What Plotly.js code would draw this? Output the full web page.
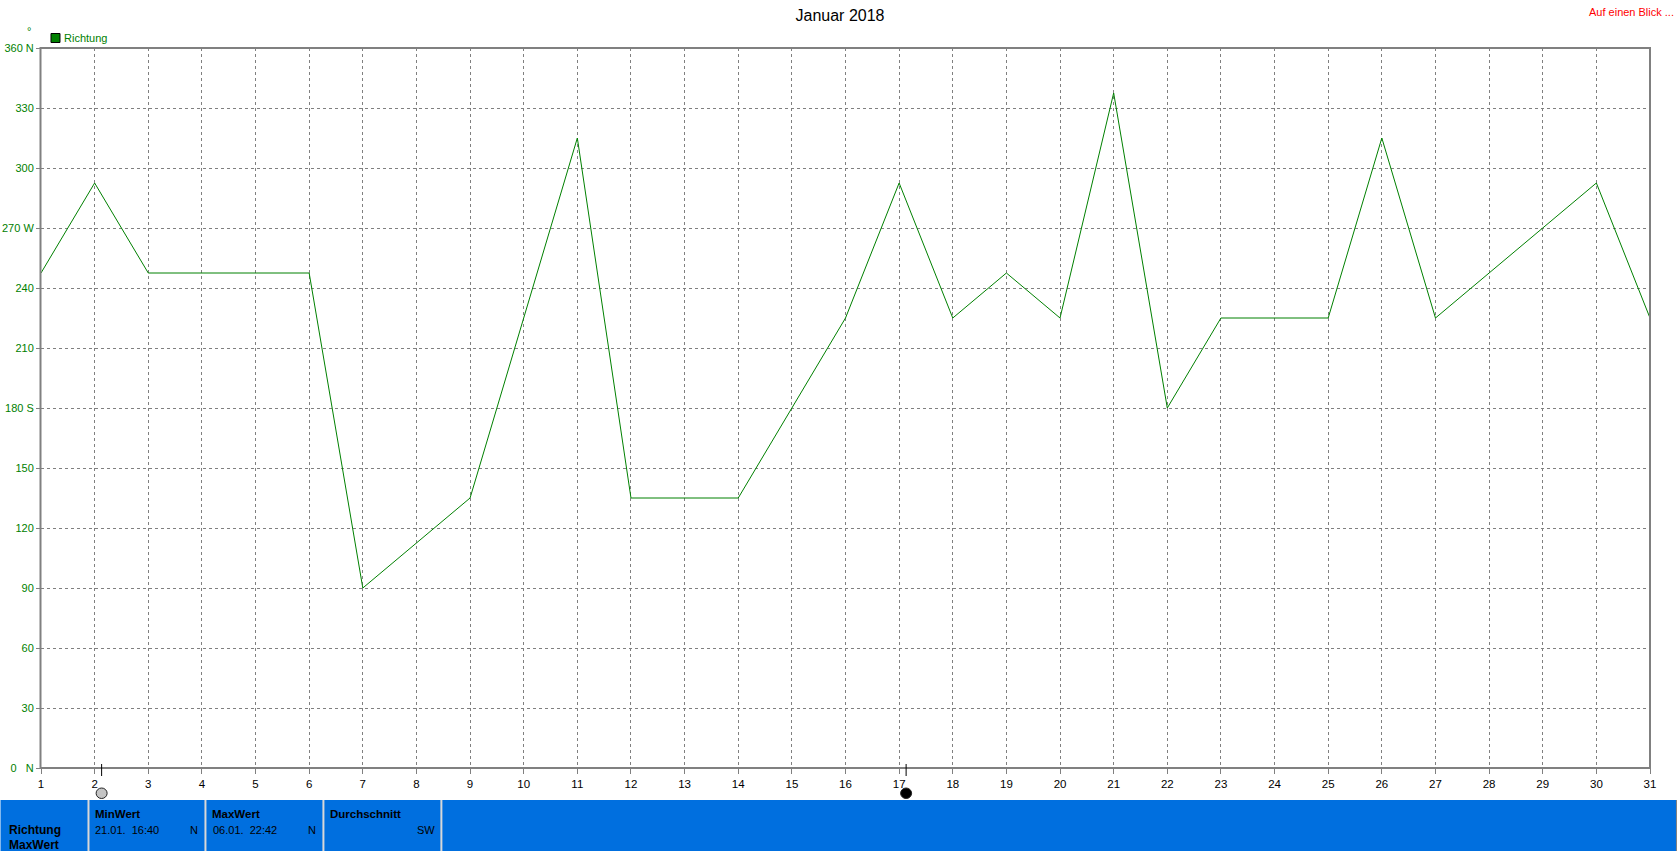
<!DOCTYPE html>
<html><head><meta charset="utf-8">
<script src="https://cdn.plot.ly/plotly-3.0.1.min.js"></script>
<style>html,body{margin:0;padding:0;background:#fff;overflow:hidden}#c{width:1677px;height:851px}</style>
</head><body><div id="c"></div>
<script>
const days = [1,2,3,4,5,6,7,8,9,10,11,12,13,14,15,16,17,18,19,20,21,22,23,24,25,26,27,28,29,30,31];
const richtung = [247.5,292.5,247.5,247.5,247.5,247.5,90,112.5,135,225,315,135,135,135,180,225,292.5,225,247.5,225,337.5,180,225,225,225,315,225,247.5,270,292.5,225];
const yTickVals = [0,30,60,90,120,150,180,210,240,270,300,330,360];
const yTickText = ['0\u00A0\u00A0\u00A0N','30','60','90','120','150','180\u00A0S','210','240','270\u00A0W','300','330','360\u00A0N'];
const moonDays = [2.13,17.13];
const moonFill = ['#c4c4c4','#000000'];
const FONT = '"Liberation Sans", Arial, sans-serif';
const GREEN = '#008000', GRAY = '#808080', BLUE = '#006fdf';
const L=40.5,R=1650,T=48,B=768;
function px(x){return (x-L)/(R-L);}
function py(y){return (B-y)/(B-T);}
function note(text,x,y,opt){
  opt = opt||{};
  return {xref:'paper',yref:'paper',x:px(x),y:py(y),text:text,showarrow:false,
    xanchor:opt.anchor||'left',yanchor:'middle',xshift:opt.anchor==='right'?2:-2,
    font:{family:FONT,size:opt.size||11,color:opt.color||'#000'}};
}
const annotations = [
  note('°',26,31,{color:GREEN}),
  note('Richtung',64,38,{color:GREEN}),
  note('Auf einen Blick ...',1674,12,{color:'#ff0000',anchor:'right'}),
  note('<b>Richtung</b>',8,830,{size:12}),
  note('<b>MaxWert</b>',8,845,{size:12}),
  note('<b>MinWert</b>',95,814,{size:11.5}),
  note('21.01.\u00A0\u00A016:40',95,830),
  note('N',198,830,{anchor:'right'}),
  note('<b>MaxWert</b>',212,814,{size:11.5}),
  note('06.01.\u00A0\u00A022:42',213,830),
  note('N',316,830,{anchor:'right'}),
  note('<b>Durchschnitt</b>',330,814,{size:11.5}),
  note('SW',435,830,{anchor:'right'})
];
function rect(x0,y0,x1,y1,fill,line,layer){
  return {type:'rect',xref:'paper',yref:'paper',x0:px(x0),x1:px(x1),y0:py(y1),y1:py(y0),
    fillcolor:fill,line:line||{width:0},layer:layer||'above'};
}
const moonShapes = [];
moonDays.forEach((d,i)=>{
  moonShapes.push({type:'line',xref:'x',yref:'paper',x0:d,x1:d,y0:py(764),y1:py(776),line:{color:'#000',width:1},layer:'above'});
  moonShapes.push({type:'circle',xref:'x',yref:'paper',xsizemode:'pixel',xanchor:d,x0:-5.5,x1:5.5,y0:py(798.5),y1:py(788),fillcolor:moonFill[i],line:{color:'#222',width:1},layer:'above'});
});
const shapes = [
  rect(0,800,1676,851,BLUE),
  rect(87,800,89,851,'#d8d8d8'),
  rect(204,800,206,851,'#d8d8d8'),
  rect(322,800,324,851,'#d8d8d8'),
  rect(440,800,442,851,'#d8d8d8'),
  rect(1676,800,1677,851,'#808080'),
  rect(50.5,33.5,59.5,42.5,GREEN,{color:'#000',width:1}),
  rect(40,48,1650,768,'rgba(0,0,0,0)',{color:GRAY,width:2})
].concat(moonShapes);
const traces = [
  {x:days,y:richtung,type:'scatter',mode:'lines',name:'Richtung',
   line:{color:GREEN,width:1,shape:'linear'},cliponaxis:false,hoverinfo:'x+y'}
];
const layout = {
  width:1677,height:851,showlegend:false,
  paper_bgcolor:'#fff',plot_bgcolor:'#fff',
  margin:{l:L,r:1677-R,t:T,b:851-B,pad:0},
  font:{family:FONT,size:11,color:'#000'},
  title:{text:'Januar 2018',x:840/1677,xanchor:'center',xref:'container',y:1-15/851,yanchor:'middle',
         font:{family:FONT,size:16,color:'#000'}},
  xaxis:{range:[1,31],tickmode:'array',tickvals:days,ticktext:days.map(String),
    showgrid:true,gridcolor:GRAY,gridwidth:1,griddash:'3px,3px',zeroline:false,
    showline:false,
    ticks:'outside',ticklen:5,tickcolor:GRAY,tickwidth:1,tickangle:0,
    tickfont:{family:FONT,size:11.5,color:'#000'},fixedrange:true},
  yaxis:{range:[0,360],tickmode:'array',tickvals:yTickVals,ticktext:yTickText,
    showgrid:true,gridcolor:GRAY,gridwidth:1,griddash:'3px,3px',zeroline:false,
    showline:false,
    ticks:'outside',ticklen:4,tickcolor:GRAY,tickwidth:1,
    tickfont:{family:FONT,size:11,color:GREEN},fixedrange:true},
  annotations:annotations,shapes:shapes
};
Plotly.newPlot('c',traces,layout,{displayModeBar:false,staticPlot:true});
</script></body></html>
